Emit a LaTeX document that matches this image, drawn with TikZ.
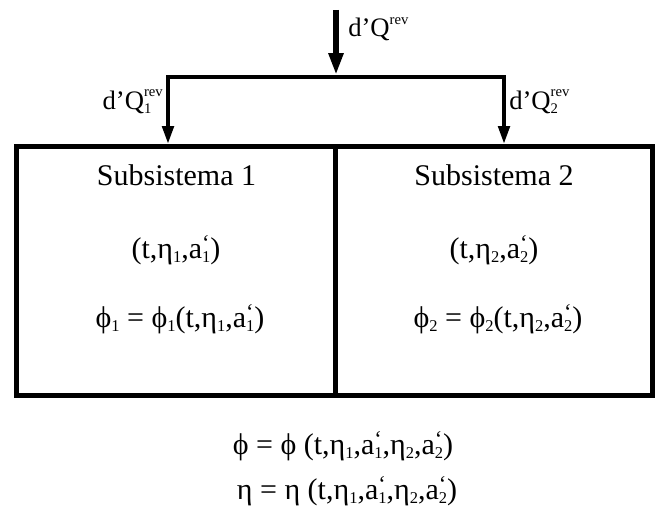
\documentclass[tikz,border=0pt]{standalone}
\usepackage{fontspec}
\setmainfont{Liberation Serif}
\usepackage{tikz}
\usetikzlibrary{arrows.meta}

\newcommand{\ix}[1]{\raisebox{-0.35ex}{\scalebox{0.55}{#1}}}
\newcommand{\ap}[1]{a\rlap{\raisebox{0.55ex}{\scalebox{0.75}{‘}}}\ix{#1}}
\newcommand{\rv}{\raisebox{1.05ex}{\scalebox{0.55}{rev}}}
\newcommand{\dq}[1]{d’Q\rlap{\ix{#1}}\rv}

\begin{document}
\begin{tikzpicture}[
    x=0.75pt, y=0.75pt,
    box/.style={rectangle, draw, line width=3.75pt, inner sep=0pt,
                minimum height=186.75pt},
    txt/.style={inner sep=0pt, font=\fontsize{22.5}{27}\selectfont},
    lbl/.style={inner sep=0pt, font=\fontsize{20}{24}\selectfont},
    mainarrow/.style={-{Triangle[length=16.5pt,width=10.5pt]}, line width=4.5pt},
    arrow/.style={-{Triangle[length=13.5pt,width=8.5pt]}, line width=3pt}
  ]
    \useasboundingbox (0,0) rectangle (659,519);

    % the two subsystems
    \node[box, minimum width=239.25pt] (sub1) at (176,248) {};
    \node[box, minimum width=237.4pt]  (sub2) at (493.75,248) {};

    \node[txt, anchor=base] (name1) at (176.5,334) {Subsistema 1};
    \node[txt, anchor=base] (vars1) at (176,261)   {(t,η\ix{1},\ap{1})};
    \node[txt, anchor=base] (phi1)  at (180,192)   {ϕ\ix{1} = ϕ\ix{1}(t,η\ix{1},\ap{1})};

    \node[txt, anchor=base] (name2) at (494,334)   {Subsistema 2};
    \node[txt, anchor=base] (vars2) at (494,261)   {(t,η\ix{2},\ap{2})};
    \node[txt, anchor=base] (phi2)  at (498,192)   {ϕ\ix{2} = ϕ\ix{2}(t,η\ix{2},\ap{2})};

    % heat supply
    \coordinate (src)   at (336,509);
    \coordinate (split) at (336,442);
    \coordinate (in1)   at (168,375);
    \coordinate (in2)   at (504,375);
    \draw[mainarrow, shorten >=1.5pt] (src) -- (split);
    \draw[arrow] (split) -| (in1);
    \draw[arrow] (split) -| (in2);

    \node[lbl, anchor=base west] (qin) at (348,482) {d’Q\rv};
    \node[lbl, anchor=base east] (q1)  at (163,410) {\dq{1}};
    \node[lbl, anchor=base west] (q2)  at (509,410) {\dq{2}};

    % whole system
    \node[txt, anchor=base] (phi) at (343,65) {ϕ = ϕ (t,η\ix{1},\ap{1},η\ix{2},\ap{2})};
    \node[txt, anchor=base] (eta) at (347,20) {η = η (t,η\ix{1},\ap{1},η\ix{2},\ap{2})};
  \end{tikzpicture}
\end{document}
